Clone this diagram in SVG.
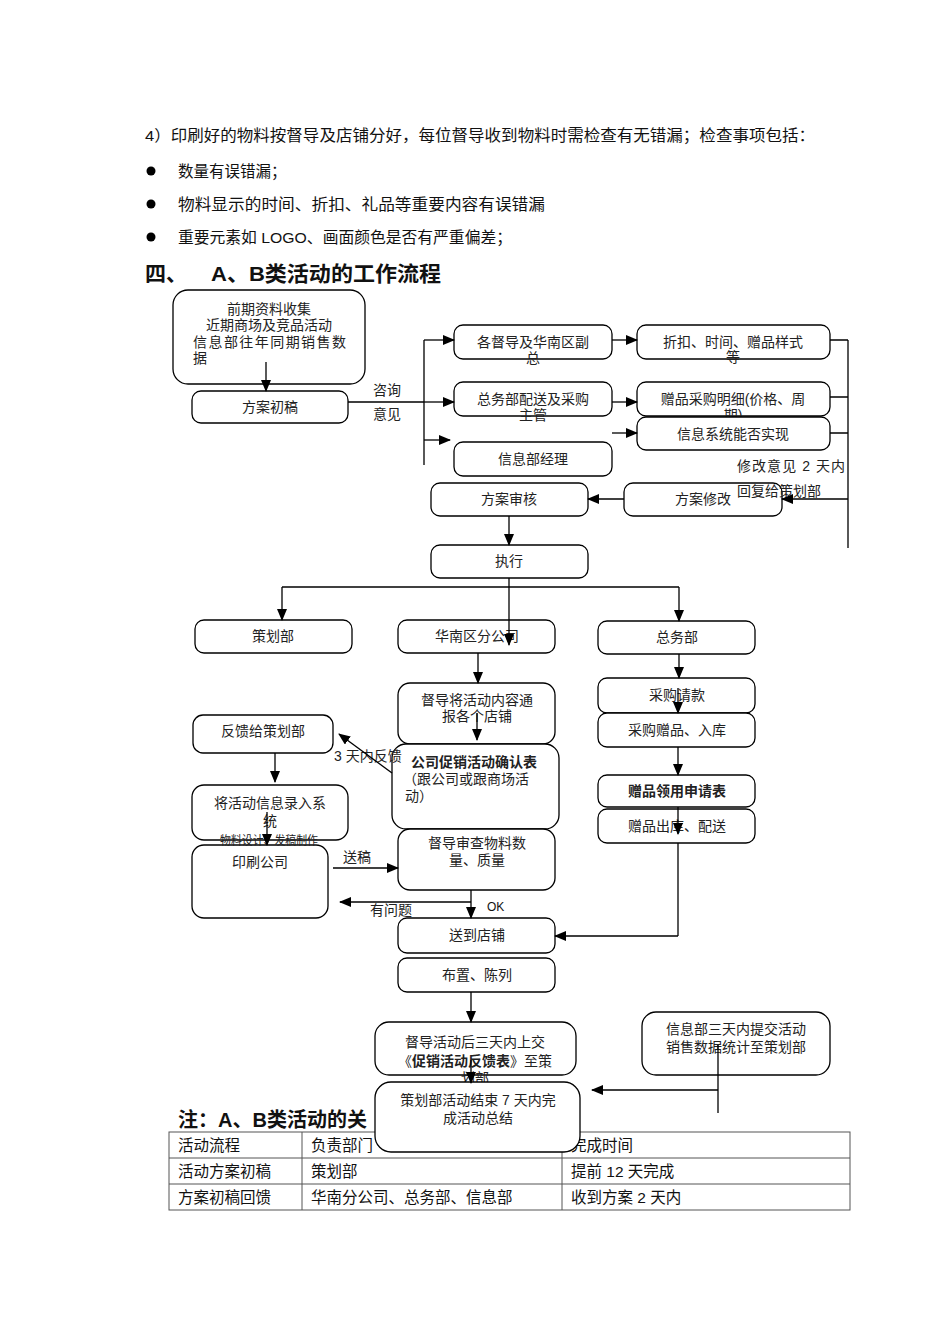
<svg xmlns="http://www.w3.org/2000/svg" width="950" height="1344" viewBox="0 0 950 1344">
<style>
text{font-family:"Liberation Sans","Noto Sans CJK SC",sans-serif;fill:#111}
.h{font-size:15.5px}
.t{font-size:14px;fill:#222}
.c{text-anchor:middle}
.b{font-weight:bold}
.box{fill:#fff;stroke:#000;stroke-width:1.3}
.ln{fill:none;stroke:#000;stroke-width:1.3}
.ar{fill:none;stroke:#000;stroke-width:1.3;marker-end:url(#ah)}
.tb{fill:none;stroke:#555;stroke-width:1}
</style>
<defs>
<marker id="ah" markerUnits="userSpaceOnUse" markerWidth="12" markerHeight="10" refX="11" refY="5" orient="auto">
<path d="M0,0 L12,5 L0,10 Z" fill="#000"/>
</marker>
</defs>
<rect width="950" height="1344" fill="#fff"/>
<g id="header">
<text class="h" x="145" y="141" textLength="670" lengthAdjust="spacingAndGlyphs">4）印刷好的物料按督导及店铺分好，每位督导收到物料时需检查有无错漏；检查事项包括：</text>
<circle cx="151" cy="171" r="4.5" fill="#000"/>
<circle cx="151" cy="204" r="4.5" fill="#000"/>
<circle cx="151" cy="237" r="4.5" fill="#000"/>
<text class="h" x="178" y="177">数量有误错漏；</text>
<text class="h" x="178" y="210" textLength="367" lengthAdjust="spacingAndGlyphs">物料显示的时间、折扣、礼品等重要内容有误错漏</text>
<text class="h" x="178" y="243" textLength="334" lengthAdjust="spacingAndGlyphs">重要元素如 LOGO、画面颜色是否有严重偏差；</text>
<text x="145" y="281" style="font-size:21px;font-weight:bold">四、</text>
<text x="211" y="281" style="font-size:21px;font-weight:bold" textLength="230" lengthAdjust="spacingAndGlyphs">A、B类活动的工作流程</text>
</g>
<g id="note">
<text x="178" y="1127" style="font-size:20px;font-weight:bold">注：A、B类活动的关</text>
<rect class="tb" x="169" y="1132" width="681" height="78"/>
<line class="tb" x1="169" y1="1158" x2="850" y2="1158"/>
<line class="tb" x1="169" y1="1184" x2="850" y2="1184"/>
<line class="tb" x1="302" y1="1132" x2="302" y2="1210"/>
<line class="tb" x1="562" y1="1132" x2="562" y2="1210"/>
<text class="h" x="178" y="1151">活动流程</text>
<text class="h" x="311" y="1151">负责部门</text>
<text class="h" x="571" y="1151">完成时间</text>
<text class="h" x="178" y="1177">活动方案初稿</text>
<text class="h" x="311" y="1177">策划部</text>
<text class="h" x="571" y="1177">提前 12 天完成</text>
<text class="h" x="178" y="1203">方案初稿回馈</text>
<text class="h" x="311" y="1203">华南分公司、总务部、信息部</text>
<text class="h" x="571" y="1203">收到方案 2 天内</text>
</g>
<g id="n1"><rect class="box" x="173" y="290" width="192" height="94" rx="15"/>
<text class="t c" x="269" y="314">前期资料收集</text>
<text class="t c" x="269" y="330">近期商场及竞品活动</text>
<text class="t" x="193" y="347" textLength="153" lengthAdjust="spacing">信息部往年同期销售数</text>
<text class="t" x="193" y="363">据</text></g>
<g id="n2"><rect class="box" x="192" y="391" width="156" height="32" rx="9"/><text class="t c" x="270" y="412">方案初稿</text></g>
<g id="n3"><rect class="box" x="454" y="325" width="158" height="34" rx="9"/><text class="t c" x="533" y="347">各督导及华南区副</text><text class="t c" x="533" y="363">总</text></g>
<g id="n4"><rect class="box" x="454" y="382" width="158" height="34" rx="9"/><text class="t c" x="533" y="404">总务部配送及采购</text><text class="t c" x="533" y="420">主管</text></g>
<g id="n5"><rect class="box" x="454" y="442" width="158" height="34" rx="9"/><text class="t c" x="533" y="464">信息部经理</text></g>
<g id="n6"><rect class="box" x="637" y="325" width="193" height="34" rx="9"/><text class="t c" x="733" y="347">折扣、时间、赠品样式</text><text class="t c" x="733" y="362">等</text></g>
<g id="n7"><rect class="box" x="637" y="382" width="193" height="34" rx="9"/><text class="t c" x="733" y="404">赠品采购明细(价格、周</text><text class="t c" x="733" y="420">期)</text></g>
<g id="n8"><rect class="box" x="637" y="417" width="193" height="33" rx="9"/><text class="t c" x="733" y="439">信息系统能否实现</text></g>
<g id="n9"><rect class="box" x="431" y="483" width="157" height="33" rx="9"/><text class="t c" x="509" y="504">方案审核</text></g>
<g id="n10"><rect class="box" x="624" y="483" width="158" height="33" rx="9"/><text class="t c" x="703" y="504">方案修改</text></g>
<g id="n11"><rect class="box" x="431" y="545" width="157" height="33" rx="9"/><text class="t c" x="509" y="566">执行</text></g>
<g id="n12"><rect class="box" x="195" y="620" width="157" height="33" rx="9"/><text class="t c" x="273" y="641">策划部</text></g>
<g id="n13"><rect class="box" x="398" y="620" width="157" height="33" rx="9"/><text class="t c" x="477" y="641">华南区分公司</text></g>
<g id="n14"><rect class="box" x="598" y="621" width="157" height="33" rx="9"/><text class="t c" x="677" y="642">总务部</text></g>
<g id="n15"><rect class="box" x="398" y="683" width="157" height="61" rx="12"/><text class="t c" x="477" y="705">督导将活动内容通</text><text class="t c" x="477" y="721">报各个店铺</text></g>
<g id="n16"><rect class="box" x="392" y="744" width="167" height="85" rx="14"/>
<text class="t b" x="411" y="767">公司促销活动确认表</text>
<text class="t" x="403" y="784">（跟公司或跟商场活</text>
<text class="t" x="405" y="801">动）</text></g>
<g id="n17"><rect class="box" x="398" y="829" width="157" height="61" rx="12"/><text class="t c" x="477" y="848">督导审查物料数</text><text class="t c" x="477" y="865">量、质量</text></g>
<g id="n18"><rect class="box" x="193" y="715" width="140" height="38" rx="10"/><text class="t c" x="263" y="736">反馈给策划部</text></g>
<g id="n19"><rect class="box" x="192" y="785" width="156" height="55" rx="12"/><text class="t c" x="270" y="808">将活动信息录入系</text><text class="t c" x="270" y="826">统</text></g>
<g id="n20"><rect class="box" x="192" y="845" width="136" height="73" rx="12"/><text class="t c" x="260" y="867">印刷公司</text></g>
<g id="n21"><rect class="box" x="598" y="678" width="157" height="35" rx="9"/><text class="t c" x="677" y="700">采购请款</text></g>
<g id="n22"><rect class="box" x="598" y="713" width="157" height="34" rx="9"/><text class="t c" x="677" y="735">采购赠品、入库</text></g>
<g id="n23"><rect class="box" x="598" y="775" width="157" height="32" rx="9"/><text class="t c b" x="677" y="796">赠品领用申请表</text></g>
<g id="n24"><rect class="box" x="598" y="809" width="157" height="34" rx="9"/><text class="t c" x="677" y="831">赠品出库、配送</text></g>
<g id="n25"><rect class="box" x="398" y="918" width="157" height="35" rx="9"/><text class="t c" x="477" y="940">送到店铺</text></g>
<g id="n26"><rect class="box" x="398" y="958" width="157" height="34" rx="9"/><text class="t c" x="477" y="980">布置、陈列</text></g>
<g id="n27"><rect class="box" x="375" y="1022" width="201" height="53" rx="14"/>
<text class="t c" x="475" y="1047">督导活动后三天内上交</text>
<text class="t c" x="475" y="1066">《<tspan class="b">促销活动反馈表</tspan>》至策</text>
<text class="t c" x="475" y="1083">划部</text></g>
<g id="n28"><rect class="box" x="375" y="1082" width="205" height="70" rx="16"/>
<text class="t c" x="478" y="1105">策划部活动结束 7 天内完</text>
<text class="t c" x="478" y="1123">成活动总结</text></g>
<g id="n29"><rect class="box" x="642" y="1012" width="188" height="63" rx="14"/>
<text class="t c" x="736" y="1034">信息部三天内提交活动</text>
<text class="t c" x="736" y="1052">销售数据统计至策划部</text></g>
<g id="labels">
<text class="t" x="373" y="395">咨询</text>
<text class="t" x="373" y="419">意见</text>
<text class="t" x="737" y="471" textLength="108" lengthAdjust="spacing">修改意见 2 天内</text>
<text class="t" x="737" y="496">回复给策划部</text>
<text class="t" x="334" y="761">3 天内反馈</text>
<text class="t" x="220" y="845" style="font-size:12px" textLength="98" lengthAdjust="spacingAndGlyphs">物料设计、发稿制作</text>
<text class="t" x="343" y="862">送稿</text>
<text class="t" x="370" y="915">有问题</text>
<text x="487" y="911" style="font-size:12px">OK</text>
</g>
<g id="connectors">
<path class="ar" d="M266,362 V391"/>
<path class="ln" d="M348,402 H424 M424,340 V465"/>
<path class="ar" d="M424,340 H454"/>
<path class="ar" d="M424,402 H454"/>
<path class="ar" d="M424,440 H450"/>
<path class="ar" d="M612,340 H637"/>
<path class="ar" d="M612,402 H637"/>
<path class="ar" d="M612,433 H637"/>
<path class="ln" d="M830,340 H848 M830,397 H848 M830,433 H848 M848,340 V548"/>
<path class="ar" d="M848,499 H782"/>
<path class="ar" d="M624,499 H588"/>
<path class="ar" d="M509,516 V545"/>
<path class="ln" d="M282,587 H679"/>
<path class="ar" d="M282,587 V620"/>
<path class="ar" d="M679,587 V621"/>
<path class="ar" d="M509,578 V645"/>
<path class="ar" d="M478,653 V683"/>
<path class="ar" d="M477,713 V740"/>
<path class="ar" d="M392,773 L339,734"/>
<path class="ar" d="M275,753 V782"/>
<path class="ar" d="M267,812 V845"/>
<path class="ar" d="M333,868 H398"/>
<path class="ar" d="M471,890 V918"/>
<path class="ar" d="M471,902 H340"/>
<path class="ar" d="M679,654 V678"/>
<path class="ar" d="M678,688 V713"/>
<path class="ar" d="M678,747 V775"/>
<path class="ar" d="M678,807 V834"/>
<path class="ln" d="M678,843 V936"/>
<path class="ar" d="M678,936 H555"/>
<path class="ar" d="M471,992 V1022"/>
<path class="ar" d="M471,1060 V1083"/>
<path class="ln" d="M718,1045 V1113"/>
<path class="ar" d="M718,1090 H592"/>
</g>
</svg>
